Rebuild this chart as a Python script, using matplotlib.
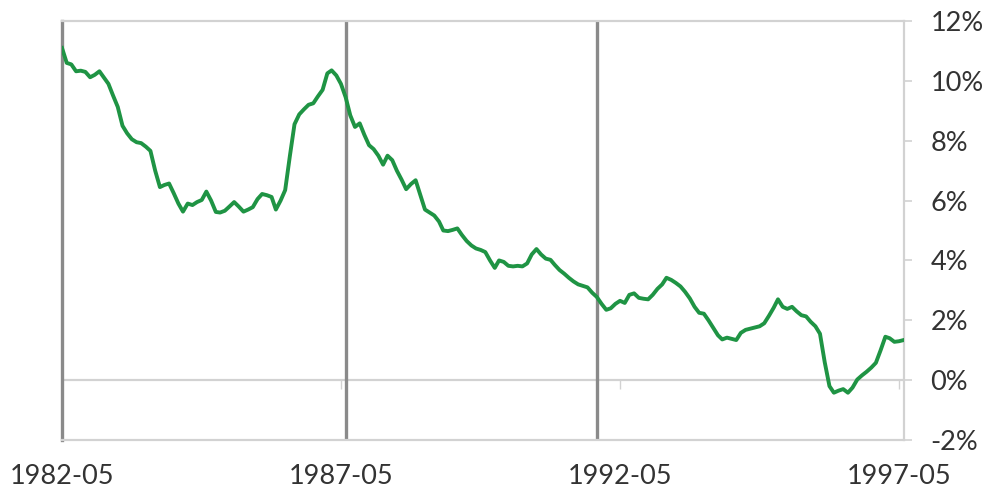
import matplotlib
matplotlib.use("Agg")
import matplotlib.pyplot as plt
import matplotlib.dates as mdates
import pandas as pd
import datetime as dt

plt.rcParams['font.family'] = ['Lato', 'DejaVu Sans']

start_month = "1982-05"
values = [
    11.1, 10.6, 10.55, 10.32, 10.34, 10.3, 10.12, 10.2, 10.32, 10.1,
    9.9, 9.5, 9.13, 8.5, 8.25, 8.05, 7.95, 7.92, 7.8, 7.66,
    7.0, 6.45, 6.52, 6.57, 6.25, 5.9, 5.63, 5.9, 5.85, 5.95,
    6.02, 6.3, 6.0, 5.62, 5.6, 5.66, 5.8, 5.95, 5.8, 5.63,
    5.7, 5.78, 6.05, 6.22, 6.18, 6.12, 5.7, 6.0, 6.35, 7.5,
    8.55, 8.88, 9.05, 9.2, 9.25, 9.48, 9.7, 10.25, 10.35, 10.18,
    9.9, 9.45, 8.85, 8.46, 8.58, 8.2, 7.85, 7.72, 7.5, 7.2,
    7.5, 7.35, 7.0, 6.7, 6.38, 6.55, 6.68, 6.2, 5.7, 5.6,
    5.5, 5.3, 5.0, 4.98, 5.02, 5.07, 4.85, 4.65, 4.5, 4.4,
    4.35, 4.28, 4.0, 3.75, 4.0, 3.95, 3.82, 3.8, 3.82, 3.8,
    3.9, 4.2, 4.38, 4.2, 4.06, 4.02, 3.85, 3.68, 3.56, 3.42,
    3.3, 3.2, 3.15, 3.1, 2.92, 2.78, 2.55, 2.35, 2.4, 2.55,
    2.65, 2.58, 2.85, 2.9, 2.75, 2.72, 2.7, 2.85, 3.05, 3.2,
    3.42, 3.35, 3.25, 3.13, 2.95, 2.73, 2.45, 2.25, 2.22, 2.0,
    1.75, 1.5, 1.36, 1.42, 1.38, 1.34, 1.58, 1.68, 1.72, 1.76,
    1.8, 1.9, 2.15, 2.42, 2.7, 2.45, 2.38, 2.45, 2.3, 2.17,
    2.13, 1.95, 1.8, 1.55, 0.6, -0.2, -0.42, -0.35, -0.3, -0.42,
    -0.25, 0.02, 0.16, 0.28, 0.42, 0.58, 1.0, 1.45, 1.4, 1.28,
    1.3, 1.34,
]
x_tick_labels = ["1982-05", "1987-05", "1992-05", "1997-05"]
y_ticks = [-2, 0, 2, 4, 6, 8, 10, 12]
event_months = ["1987-06", "1991-12"]

dates = pd.date_range(start_month, periods=len(values), freq="MS")
tick_dates = pd.to_datetime(x_tick_labels, format="%Y-%m")
event_dates = pd.to_datetime(event_months, format="%Y-%m")

fig = plt.figure(figsize=(9.92, 4.97), dpi=100)
ax = fig.add_axes([62/992, 1-440/497, (904-62)/992, (440-21)/497])

light = "#d2d2d2"
dark = "#8a8a8a"

ax.axhline(0, color=light, lw=1.6, zorder=1)
for d in event_dates:
    ax.axvline(d, color=dark, lw=2.4, zorder=2)
# small tick marks on the zero line
ax.vlines(tick_dates, -0.3, 0, color=light, lw=1.0, zorder=1)

ax.plot(dates, values, color="#1f9444", lw=2.8, zorder=3, solid_joinstyle="round")

ax.set_xlim(dt.datetime(1982, 5, 1), dt.datetime(1997, 6, 3))
ax.set_ylim(-2, 12)

ax.set_xticks(tick_dates)
ax.set_xticklabels(x_tick_labels)
ax.yaxis.tick_right()
ax.set_yticks(y_ticks)
ax.set_yticklabels([f"{v}%" for v in y_ticks])

ax.tick_params(axis="x", length=0, pad=17, labelsize=19.5, labelcolor="#333333")
ax.tick_params(axis="y", which="major", right=True, left=False, length=6,
               width=1.2, color=light, pad=13, labelsize=19.5, labelcolor="#333333")
for lbl in ax.get_yticklabels():
    lbl.set_horizontalalignment("left")

for side in ["top", "right", "bottom"]:
    ax.spines[side].set_color(light)
    ax.spines[side].set_linewidth(1.6)
ax.spines["left"].set_color(dark)
ax.spines["left"].set_linewidth(2.4)

fig.savefig("out.png", dpi=100, facecolor="white")
